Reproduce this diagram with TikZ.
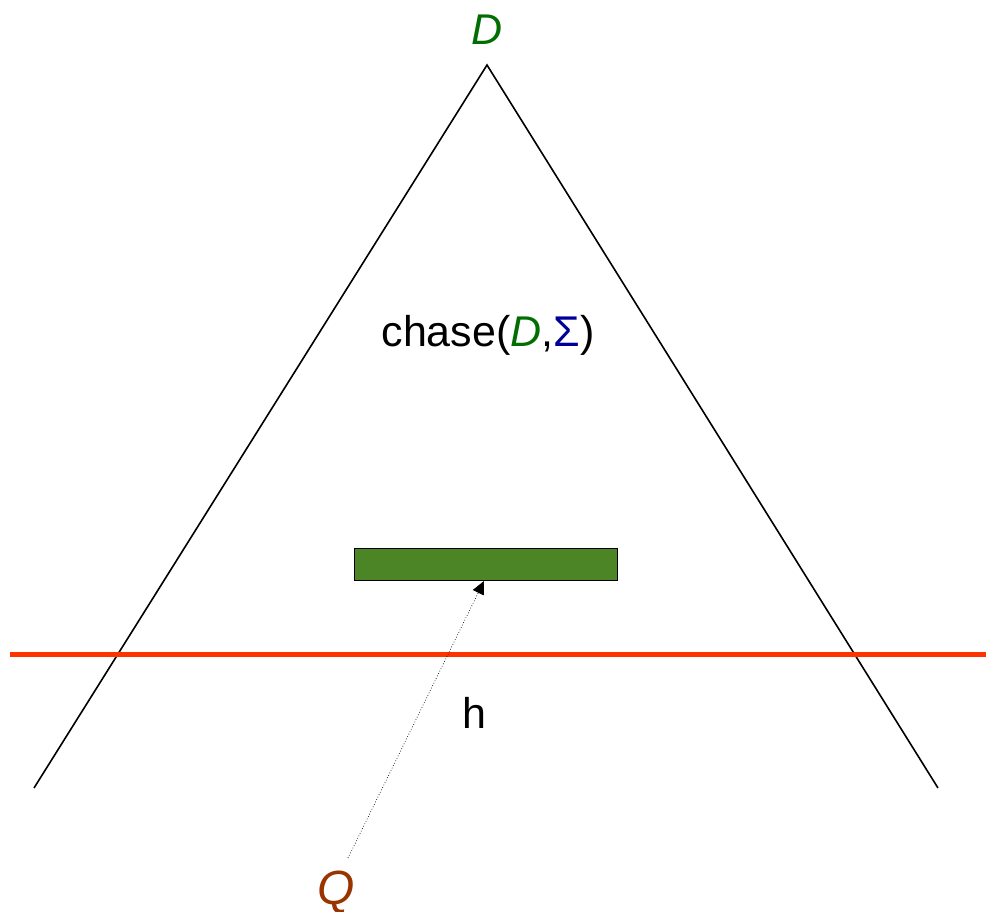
\documentclass[tikz,border=0pt]{standalone}
\usepackage{fontspec}
\setmainfont{Liberation Sans}
\usetikzlibrary{arrows.meta}
\definecolor{dgreen}{RGB}{0,110,0}
\definecolor{boxgreen}{RGB}{76,133,38}
\definecolor{sigblue}{RGB}{0,0,153}
\definecolor{qbrown}{RGB}{153,51,0}
\definecolor{hred}{RGB}{255,51,0}
\tikzset{
  edgeline/.style={line width=1.6pt, black},
  lbl/.style={inner sep=0pt, font=\fontsize{43}{50}\selectfont},
}
\begin{document}
\begin{tikzpicture}[x=1pt,y=-1pt]
\useasboundingbox (0,0) rectangle (986,911);
% triangle
\coordinate (apex) at (487,65);
\coordinate (bl) at (34,788);
\coordinate (br) at (938,788);
\draw[edgeline] (bl) -- (apex) -- (br);
% red line
\coordinate (rl) at (10,654.5);
\coordinate (rr) at (986,654.5);
\draw[hred, line width=5pt] (rl) -- (rr);
% labels
\node[lbl, text=dgreen, anchor=base] (D) at (487,44) {\itshape D};
\node[lbl, anchor=base] (chase) at (488,346) {chase(\textcolor{dgreen}{\itshape D},\textcolor{sigblue}{Σ})};
\node[lbl, anchor=base] (h) at (474,728) {h};
\node[inner sep=0pt, anchor=base, text=qbrown, font=\fontsize{48}{54}\itshape] (Q) at (336,904) {Q};
% box
\node[draw=black, line width=1.4pt, fill=boxgreen, minimum width=263pt, minimum height=32pt, inner sep=0pt, anchor=north west] (box) at (354,548) {};
% arrow
\coordinate (qstart) at (348,858);
\coordinate (tip) at (484,581);
\draw[black, line width=0.7pt, dotted, -{Triangle[length=13pt,width=12pt]}] (qstart) -- (tip);
\end{tikzpicture}
\end{document}
